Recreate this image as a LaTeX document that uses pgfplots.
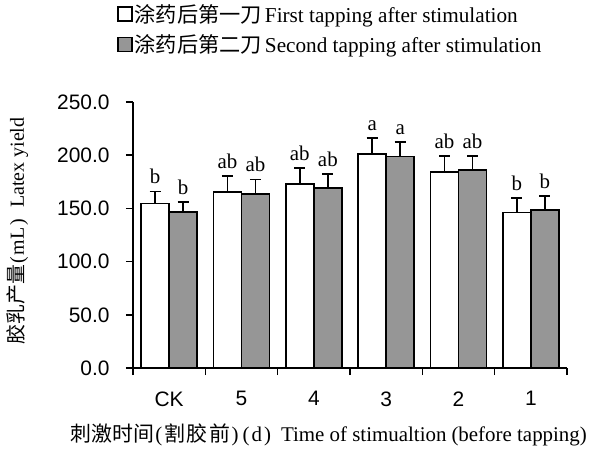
\documentclass[border=0pt]{standalone}
\usepackage{pgfplots}
\pgfplotsset{compat=1.18}
\usepackage{pgfplotstable}
\usepackage{fontspec}
\setmainfont{Liberation Serif}
\setsansfont{Liberation Sans}
\newfontfamily\cjk{Noto Sans CJK SC}
\definecolor{bargray}{RGB}{150,150,150}

\pgfplotstableread{
x y err lab
0 154.5 11.3 b
1 165.4 15.0 ab
2 173.0 15.0 ab
3 201.1 15.0 a
4 184.2 15.0 ab
5 146.3 13.5 b
}\first
\pgfplotstableread{
x y err lab
0 146.6 9.5 b
1 163.5 13.5 ab
2 169.2 13.0 ab
3 199.0 13.5 a
4 186.1 13.0 ab
5 148.5 13.0 b
}\second

\begin{document}
\begin{tikzpicture}
\begin{axis}[
  scale only axis,
  width=434bp, height=266bp,
  xmin=-0.5, xmax=5.5,
  ymin=0, ymax=250,
  axis lines=left,
  axis line style={-, line width=1.5bp, black},
  tick align=outside,
  ytick={0,50,...,250},
  major tick length=7bp,
  tick style={line width=1.5bp, black},
  xtick={-0.5,0.5,...,5.5},
  xticklabels={},
  extra x ticks={0,1,2,3,4,5},
  extra x tick labels={CK,5,4,3,2,1},
  extra x tick style={major tick length=0pt, xticklabel style={yshift=-20bp}},
  /pgf/number format/assume math mode=true,
  tick label style={font=\fontsize{21}{25}\selectfont\sffamily},
  yticklabel style={/pgf/number format/.cd, fixed, fixed zerofill, precision=1, /tikz/.cd, xshift=-13bp},
  ylabel={{\cjk 胶乳产量}\kern1bp(\kern2bp mL\kern2bp)\kern11bp Latex yield},
  ylabel style={font=\fontsize{20}{24}\selectfont, at={(axis description cs:-0.266,0.515)}, anchor=center},
  xlabel={{\cjk 刺激时间}\kern1.5bp(\kern2bp{\cjk 割\kern1.5bp 胶\kern1.5bp 前}\kern1.5bp)\kern4bp(\kern2bp d\kern2bp)\kern10bp Time of stimualtion\kern5bp(before tapping)},
  xlabel style={font=\fontsize{21}{25}\selectfont, at={(axis description cs:-0.145,-0.278)}, anchor=base west, inner sep=0pt},
  ybar,
  bar width=28bp,
  clip=false,
  legend style={at={(axis description cs:-0.037,1.375)}, anchor=north west, draw=none, fill=none,
    font=\fontsize{21.3}{25}\selectfont, row sep=7bp, inner sep=0pt},
  legend cell align=left,
]
\addplot[ybar, bar shift=-14bp, fill=white, draw=black, line width=1.5bp,
  area legend,
  legend image code/.code={\draw[line width=1.5bp, black, fill=white] (0bp,-7bp) rectangle (14bp,7bp);},
  error bars/.cd, y dir=plus, y explicit,
  error bar style={line width=1.5bp, black},
  error mark options={line width=1.5bp, black, mark size=5.5bp, rotate=90}]
  table[x=x, y=y, y error=err] {\first};
\addlegendentry{{\cjk 涂药后第一刀}\kern3bp First tapping after stimulation}
\addplot[ybar, bar shift=14bp, fill=bargray, draw=black, line width=1.5bp,
  area legend,
  legend image code/.code={\draw[line width=1.5bp, black, fill=bargray] (0bp,-7bp) rectangle (14bp,7bp);},
  error bars/.cd, y dir=plus, y explicit,
  error bar style={line width=1.5bp, black},
  error mark options={line width=1.5bp, black, mark size=5.5bp, rotate=90}]
  table[x=x, y=y, y error=err] {\second};
\addlegendentry{{\cjk 涂药后第二刀}\kern3bp Second tapping after stimulation}
\addplot[ybar, bar shift=-14bp, draw=none, fill=none, forget plot,
  point meta=explicit symbolic, nodes near coords,
  nodes near coords style={font=\fontsize{21}{25}\selectfont, anchor=south, yshift=4bp, text=black}]
  table[x=x, y expr=\thisrow{y}+\thisrow{err}, meta=lab] {\first};
\addplot[ybar, bar shift=14bp, draw=none, fill=none, forget plot,
  point meta=explicit symbolic, nodes near coords,
  nodes near coords style={font=\fontsize{21}{25}\selectfont, anchor=south, yshift=4bp, text=black}]
  table[x=x, y expr=\thisrow{y}+\thisrow{err}, meta=lab] {\second};
\end{axis}
\pgfresetboundingbox
\path (current axis.south west) ++(-133bp,-82bp) rectangle ++(589bp,450bp);
\end{tikzpicture}
\end{document}
